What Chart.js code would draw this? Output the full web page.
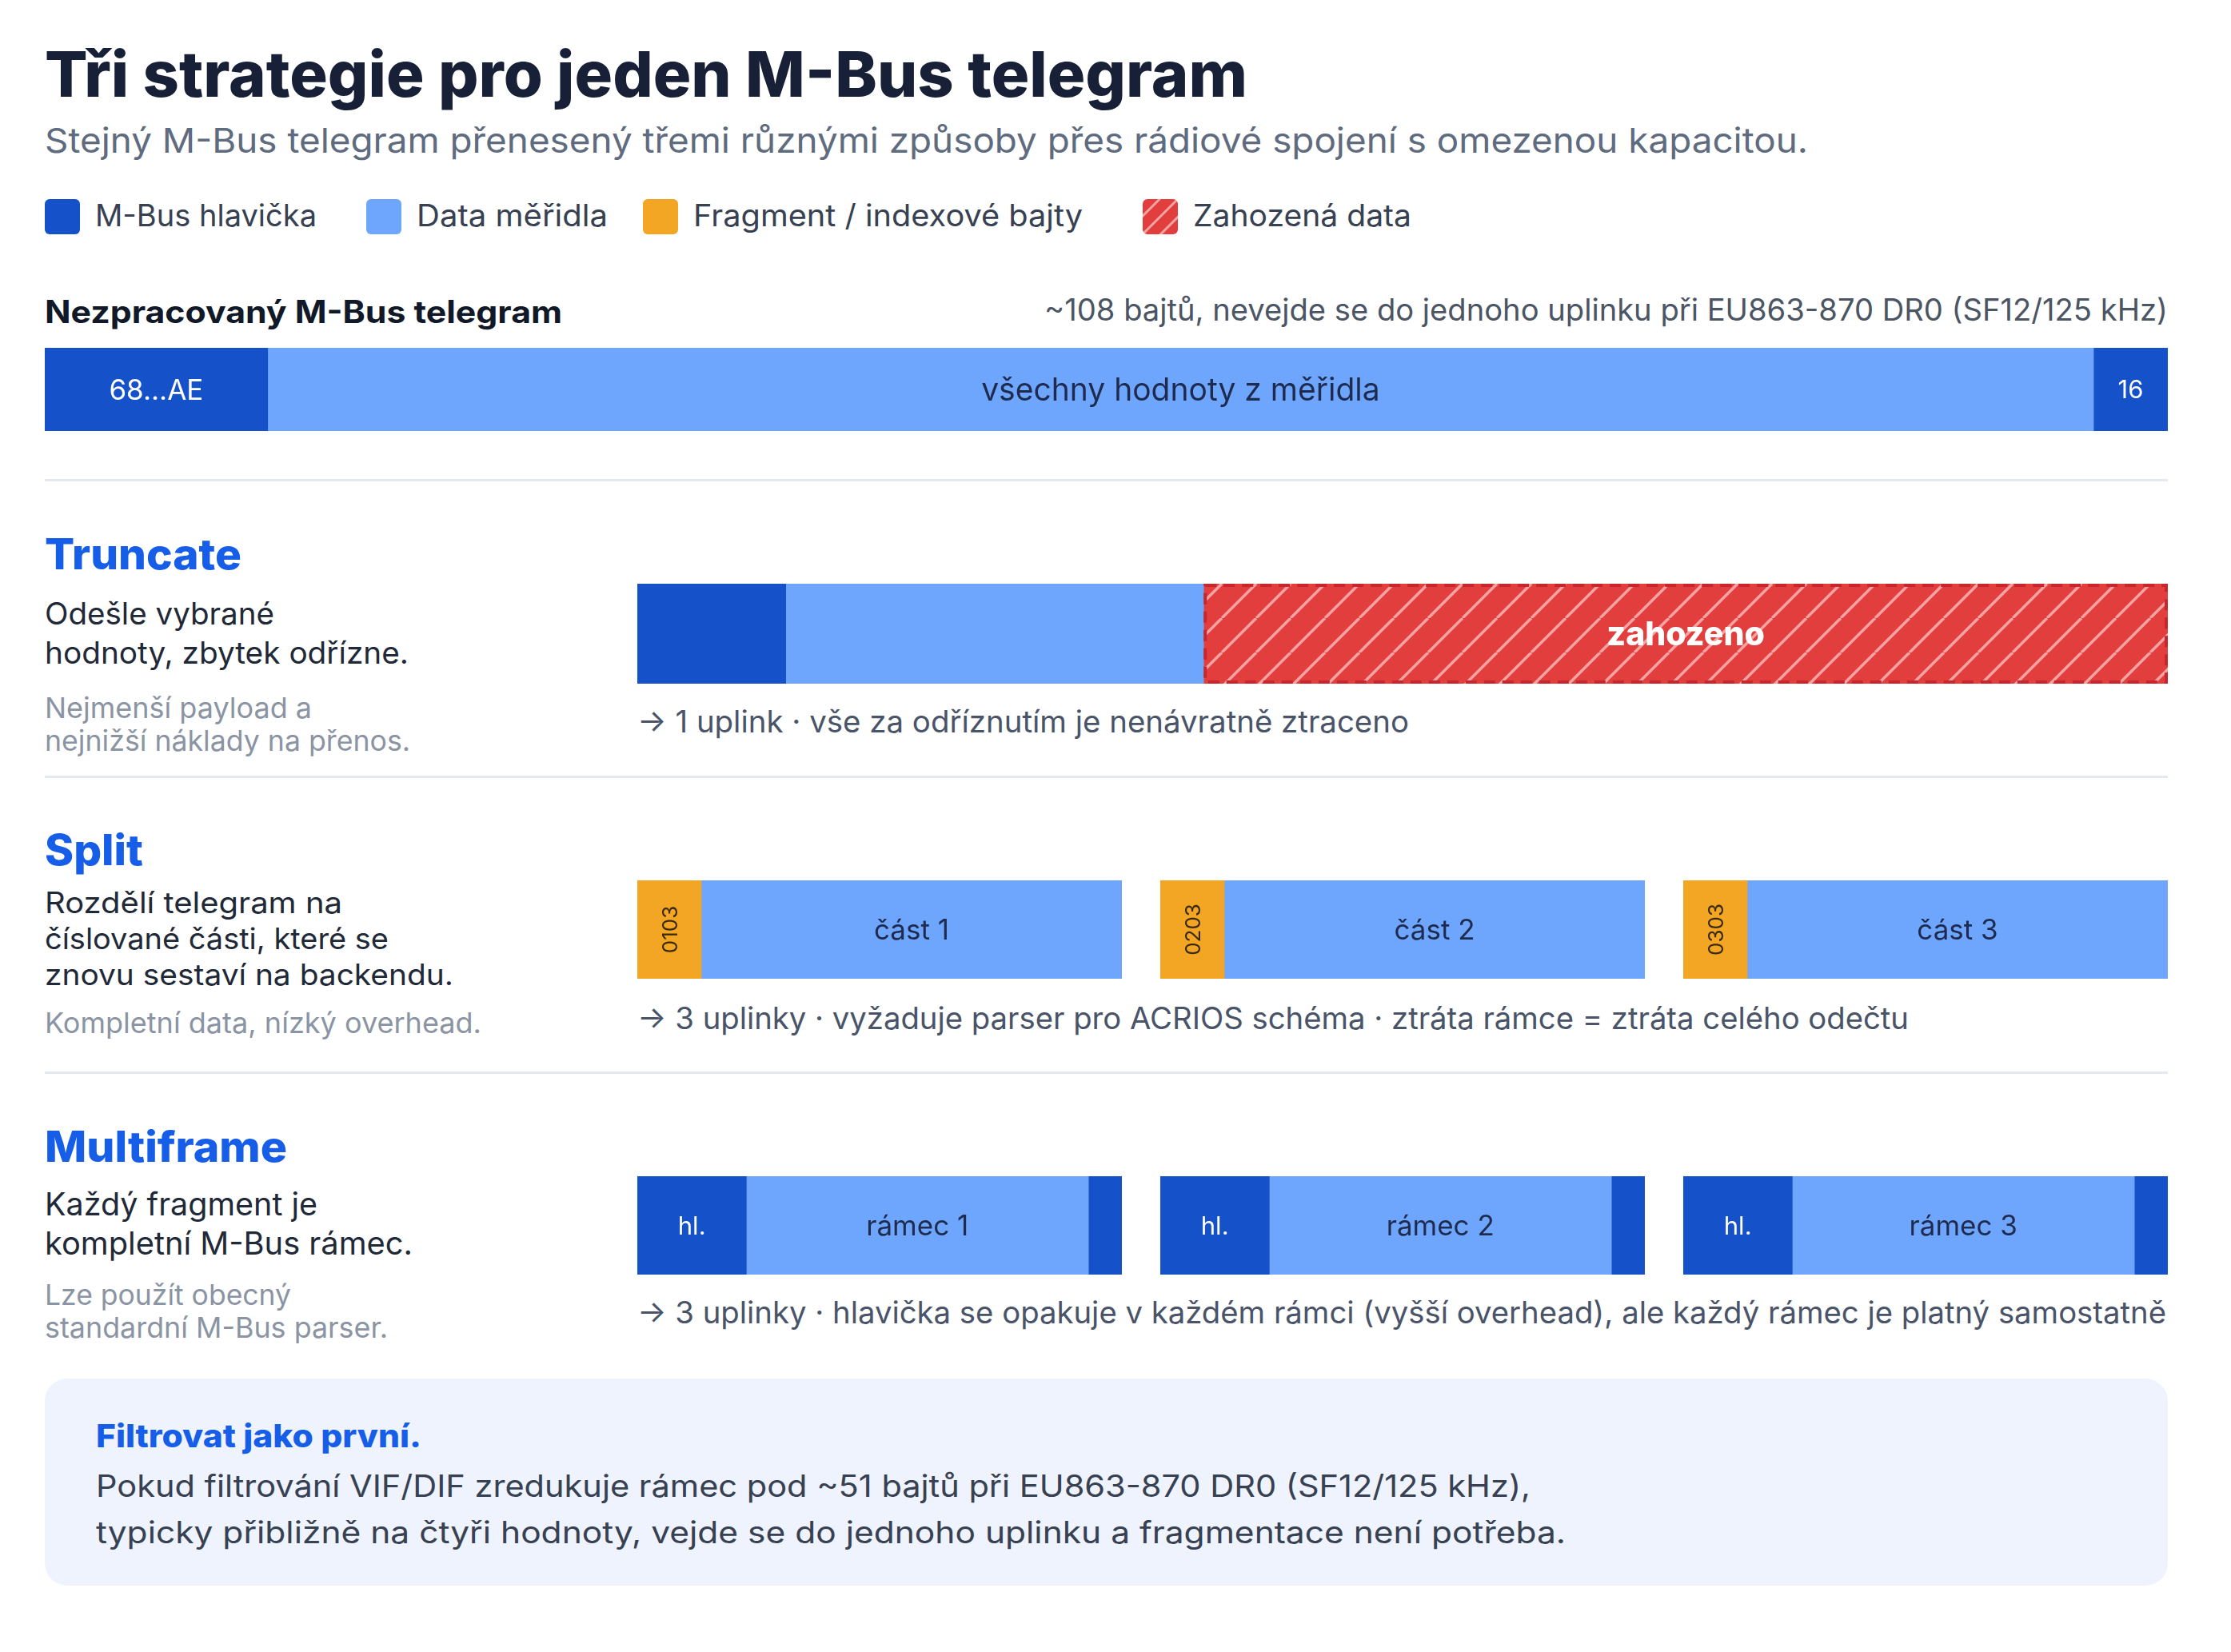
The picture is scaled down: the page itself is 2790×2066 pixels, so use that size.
<!DOCTYPE html>
<html>
<head>
<meta charset="utf-8">
<script src="https://cdn.jsdelivr.net/npm/chart.js@4.4.1/dist/chart.umd.min.js"></script>
<style>
  html, body { margin: 0; padding: 0; background: #fff; }
  #page { position: relative; width: 2790px; height: 2066px; overflow: hidden; font-family: Inter, sans-serif; }
  #page canvas { position: absolute; }
  #page svg { position: absolute; left: 0; top: 0; }
</style>
</head>
<body>
<div id="page">
  <svg id="txt" xmlns="http://www.w3.org/2000/svg" width="2790" height="2066"></svg>
</div>
<script>
// --- data (segment shares in % of each bar) ---
const rawLabels = ['68...AE', 'všechny hodnoty z měřidla', '16'];
const rawParts = [10.5, 86, 3.5];
const truncParts = [9.7, 27.3, 63];
const truncLabels = ['', '', 'zahozeno'];
const splitIndex = ['0103', '0203', '0303'];
const splitNames = ['část 1', 'část 2', 'část 3'];
const splitParts = [13.2, 86.8];
const frameNames = ['rámec 1', 'rámec 2', 'rámec 3'];
const frameParts = [22.5, 70.6, 6.9];
const legendItems = ['M-Bus hlavička', 'Data měřidla', 'Fragment / indexové bajty', 'Zahozená data'];

const DARK = '#1551C9';
const LIGHT = '#6EA6FD';
const ORANGE = '#F3A623';
const RED = '#E23E3E';
const NAVY = '#1E2B4F';

const page = document.getElementById('page');
const svg = document.getElementById('txt');
const NS = 'http://www.w3.org/2000/svg';

function el(tag, attrs, parent) {
  const e = document.createElementNS(NS, tag);
  for (const k in attrs) e.setAttribute(k, attrs[k]);
  (parent || svg).appendChild(e);
  return e;
}

// text at a baseline; stretched to the reference width, shrunk first if it would run longer
function text(x, y, str, o) {
  let size = o.size;
  const t = el('text', {
    x: x, y: y,
    'font-family': 'Inter, sans-serif',
    'font-size': size,
    'font-weight': o.weight || 400,
    fill: o.fill || '#1f2937',
    'text-anchor': o.anchor || 'start'
  });
  t.textContent = str;
  if (o.w) {
    const natural = t.getComputedTextLength();
    if (natural > o.w) {
      size = size * o.w / natural * 0.995;
      t.setAttribute('font-size', size.toFixed(2));
    }
    t.setAttribute('textLength', o.w);
    t.setAttribute('lengthAdjust', 'spacingAndGlyphs');
  }
  return t;
}

// hatch for the discarded part
function hatchPattern() {
  const p = 43;
  const c = document.createElement('canvas');
  c.width = p; c.height = p;
  const g = c.getContext('2d');
  g.fillStyle = RED;
  g.fillRect(0, 0, p, p);
  g.strokeStyle = '#F4A2A2';
  g.lineWidth = 3.5;
  for (const k of [-p, 0, p]) {
    g.beginPath();
    g.moveTo(k, p);
    g.lineTo(k + p, 0);
    g.stroke();
  }
  return g.createPattern(c, 'repeat');
}

// labels drawn on top of the bar segments
const segmentText = {
  id: 'segmentText',
  afterDatasetsDraw(chart) {
    const ctx = chart.ctx;
    chart.data.datasets.forEach((ds, i) => {
      const bar = chart.getDatasetMeta(i).data[0];
      const { x, y, base, height } = bar.getProps(['x', 'y', 'base', 'height'], true);
      const left = Math.min(x, base), right = Math.max(x, base);
      const top = y - height / 2;
      if (ds.dashed) {
        ctx.save();
        ctx.setLineDash([14, 9]);
        ctx.lineWidth = 4;
        ctx.strokeStyle = '#C8262C';
        ctx.strokeRect(left + 2, top + 2, right - left - 4, height - 4);
        ctx.restore();
      }
      if (!ds.segLabel) return;
      ctx.save();
      ctx.fillStyle = ds.labelColor;
      ctx.font = ds.labelFont;
      ctx.textAlign = 'center';
      ctx.textBaseline = 'middle';
      ctx.translate((left + right) / 2, y);
      if (ds.rotate) ctx.rotate(-Math.PI / 2);
      ctx.fillText(ds.segLabel, 0, 2);
      ctx.restore();
    });
  }
};

function makeBar(box, values, styles) {
  const cv = document.createElement('canvas');
  cv.width = box.w; cv.height = box.h;
  cv.style.left = box.x + 'px';
  cv.style.top = box.y + 'px';
  cv.style.width = box.w + 'px';
  cv.style.height = box.h + 'px';
  page.appendChild(cv);
  return new Chart(cv.getContext('2d'), {
    type: 'bar',
    data: {
      labels: [''],
      datasets: values.map((v, i) => Object.assign({
        data: [v],
        borderWidth: 0,
        barPercentage: 1,
        categoryPercentage: 1
      }, styles[i]))
    },
    options: {
      indexAxis: 'y',
      responsive: false,
      animation: false,
      events: [],
      layout: { padding: 0 },
      scales: {
        x: { stacked: true, display: false, min: 0, max: values.reduce((a, b) => a + b, 0) },
        y: { stacked: true, display: false }
      },
      plugins: { legend: { display: false }, tooltip: { enabled: false } }
    },
    plugins: [segmentText]
  });
}

function draw() {
  // pattern for svg legend swatch
  const defs = el('defs', {});
  const pat = el('pattern', { id: 'hatch', width: 16, height: 16, patternUnits: 'userSpaceOnUse', patternTransform: 'rotate(45)' }, defs);
  el('rect', { width: 16, height: 16, fill: RED }, pat);
  el('rect', { x: 0, y: 0, width: 3, height: 16, fill: '#F4A2A2' }, pat);

  // title + subtitle
  text(56, 121, 'Tři strategie pro jeden M-Bus telegram', { size: 80, weight: 800, fill: '#172036', w: 1504 });
  text(56, 191, 'Stejný M-Bus telegram přenesený třemi různými způsoby přes rádiové spojení s omezenou kapacitou.',
    { size: 43, fill: '#5F6B7E', w: 2205 });

  // legend
  const legX = [56, 458, 804, 1429];
  const legW = [277, 239, 487, 273];
  const legFill = [DARK, LIGHT, ORANGE, 'url(#hatch)'];
  legendItems.forEach((s, i) => {
    el('rect', { x: legX[i], y: 249, width: 44, height: 44, rx: 6, fill: legFill[i] });
    text(legX[i] + 63, 283, s, { size: 38, fill: '#374151', w: legW[i] });
  });

  // raw telegram
  text(56, 404, 'Nezpracovaný M-Bus telegram', { size: 39, weight: 700, fill: '#111827', w: 647 });
  text(2711, 401, '~108 bajtů, nevejde se do jednoho uplinku při EU863-870 DR0 (SF12/125 kHz)',
    { size: 39, fill: '#4B5563', anchor: 'end', w: 1405 });

  // dividers
  [600, 971, 1341].forEach(y => el('rect', { x: 56, y: y - 1, width: 2655, height: 3, fill: '#E4E8F0' }));

  // strategy descriptions
  const head = { size: 53, weight: 800, fill: '#165DE8' };
  const desc = { size: 40, fill: '#1F2937' };
  const descTight = { size: 37, fill: '#1F2937' };
  const note = { size: 36, fill: '#8B94A3' };
  const arrow = { size: 39, fill: '#4A5468' };

  text(56, 712, 'Truncate', Object.assign({ w: 246 }, head));
  text(56, 781, 'Odešle vybrané', Object.assign({ w: 287 }, desc));
  text(56, 830, 'hodnoty, zbytek odřízne.', Object.assign({ w: 455 }, desc));
  text(56, 898, 'Nejmenší payload a', Object.assign({ w: 334 }, note));
  text(56, 939, 'nejnižší náklady na přenos.', Object.assign({ w: 457 }, note));
  text(797, 916, '→ 1 uplink · vše za odříznutím je nenávratně ztraceno', Object.assign({ w: 965 }, arrow));

  text(56, 1082, 'Split', Object.assign({ w: 123 }, head));
  text(56, 1142, 'Rozdělí telegram na', Object.assign({ w: 372 }, descTight));
  text(56, 1187, 'číslované části, které se', Object.assign({ w: 430 }, descTight));
  text(56, 1232, 'znovu sestaví na backendu.', Object.assign({ w: 511 }, descTight));
  text(56, 1292, 'Kompletní data, nízký overhead.', Object.assign({ w: 546 }, note));
  text(797, 1287, '→ 3 uplinky · vyžaduje parser pro ACRIOS schéma · ztráta rámce = ztráta celého odečtu', Object.assign({ w: 1590 }, arrow));

  text(56, 1453, 'Multiframe', Object.assign({ w: 303 }, head));
  text(56, 1520, 'Každý fragment je', Object.assign({ w: 341 }, desc));
  text(56, 1569, 'kompletní M-Bus rámec.', Object.assign({ w: 460 }, desc));
  text(56, 1632, 'Lze použít obecný', Object.assign({ w: 308 }, note));
  text(56, 1673, 'standardní M-Bus parser.', Object.assign({ w: 429 }, note));
  text(797, 1655, '→ 3 uplinky · hlavička se opakuje v každém rámci (vyšší overhead), ale každý rámec je platný samostatně', Object.assign({ w: 1912 }, arrow));

  // tip box
  el('rect', { x: 56, y: 1724, width: 2655, height: 259, rx: 28, fill: '#EEF3FE' });
  text(120, 1810, 'Filtrovat jako první.', { size: 40, weight: 800, fill: '#165DE8', w: 407 });
  text(120, 1872, 'Pokud filtrování VIF/DIF zredukuje rámec pod ~51 bajtů při EU863-870 DR0 (SF12/125 kHz),', { size: 38, fill: '#374151', w: 1794 });
  text(120, 1930, 'typicky přibližně na čtyři hodnoty, vejde se do jednoho uplinku a fragmentace není potřeba.', { size: 38, fill: '#374151', w: 1838 });

  // ---- bars ----
  const white = '#FFFFFF';
  makeBar({ x: 56, y: 435, w: 2655, h: 104 }, rawParts, [
    { backgroundColor: DARK, segLabel: rawLabels[0], labelColor: white, labelFont: '35px Inter' },
    { backgroundColor: LIGHT, segLabel: rawLabels[1], labelColor: NAVY, labelFont: '39px Inter' },
    { backgroundColor: DARK, segLabel: rawLabels[2], labelColor: white, labelFont: '31px Inter' }
  ]);

  makeBar({ x: 797, y: 730, w: 1914, h: 125 }, truncParts, [
    { backgroundColor: DARK },
    { backgroundColor: LIGHT },
    { backgroundColor: hatchPattern(), dashed: true, segLabel: truncLabels[2], labelColor: white, labelFont: '800 41px Inter' }
  ]);

  const fw = 606, gap = 48;
  splitNames.forEach((name, i) => {
    makeBar({ x: 797 + i * (fw + gap), y: 1101, w: fw, h: 123 }, splitParts, [
      { backgroundColor: ORANGE, segLabel: splitIndex[i], labelColor: '#3A2A0A', labelFont: '26px Inter', rotate: true },
      { backgroundColor: LIGHT, segLabel: name, labelColor: NAVY, labelFont: '35px Inter' }
    ]);
  });

  frameNames.forEach((name, i) => {
    makeBar({ x: 797 + i * (fw + gap), y: 1471, w: fw, h: 123 }, frameParts, [
      { backgroundColor: DARK, segLabel: 'hl.', labelColor: white, labelFont: '31px Inter' },
      { backgroundColor: LIGHT, segLabel: name, labelColor: NAVY, labelFont: '35px Inter' },
      { backgroundColor: DARK }
    ]);
  });
}

draw();
</script>
</body>
</html>
